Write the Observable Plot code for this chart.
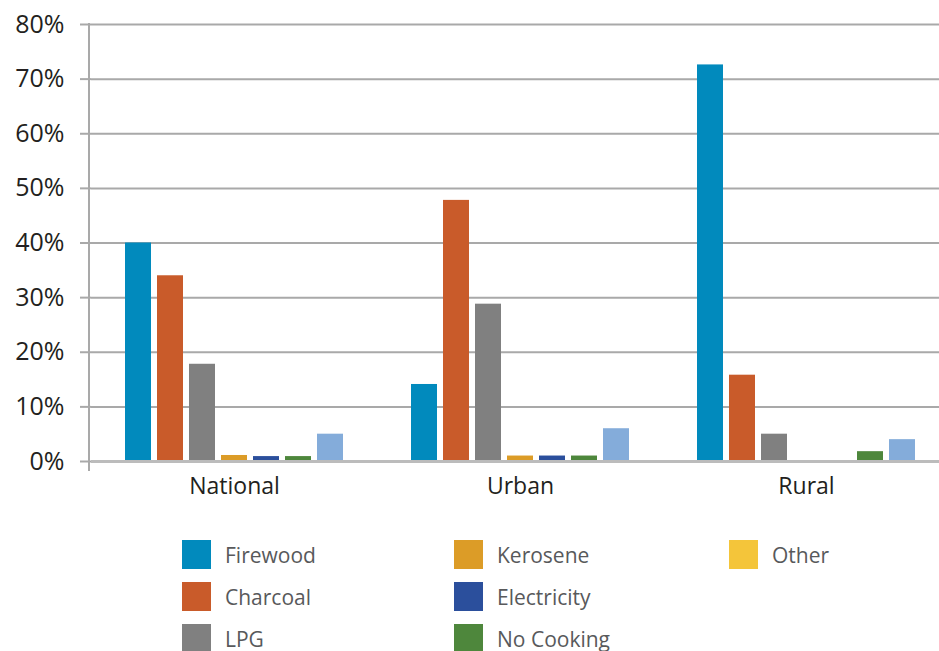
<!DOCTYPE html>
<html>
<head>
<meta charset="utf-8">
<script src="https://cdn.jsdelivr.net/npm/d3@7"></script>
<script src="https://cdn.jsdelivr.net/npm/@observablehq/plot@0.6"></script>
<style>
  body { margin: 0; background: #fff; font-family: "Open Sans", sans-serif; }
  #wrap { position: relative; width: 939px; height: 651px; overflow: hidden; background: #fff; }
  #chart { position: absolute; left: 0; top: 0; }
  #legend {
    position: absolute; left: 182px; top: 540px;
    display: grid; grid-auto-flow: column;
    grid-template-columns: 272px 275px 200px;
    grid-template-rows: repeat(3, 42px);
  }
  .item { display: flex; align-items: center; height: 29px; }
  .sw { width: 29px; height: 29px; margin-right: 14px; flex: none; }
  .lab { font-size: 21px; color: #58595b; white-space: nowrap; line-height: 26px; }
</style>
</head>
<body>
<div id="wrap">
  <div id="chart"></div>
  <div id="legend"></div>
</div>
<script>
// ---- Data ----
const groups = ["National", "Urban", "Rural"];
const series = ["Firewood", "Charcoal", "LPG", "Kerosene", "Electricity", "No Cooking", "Other"];
const national = [40, 34, 17.8, 1.1, 0.9, 0.9, 5];
const urban    = [14.1, 47.8, 28.8, 1, 1, 1, 6];
const rural    = [72.6, 15.8, 5, 0, 0, 1.8, 4];
const barColors    = ["#018abd", "#c95b2a", "#808080", "#dc9c27", "#2b4f9c", "#4e873c", "#84acda"];
const legendColors = ["#018abd", "#c95b2a", "#808080", "#dc9c27", "#2b4f9c", "#4e873c", "#f4c53a"];
const yTicks = [0, 10, 20, 30, 40, 50, 60, 70, 80];

// ---- Table ----
const valuesByGroup = [national, urban, rural];
const data = [];
groups.forEach((g, gi) => {
  series.forEach((s, si) => data.push({ group: g, fuel: s, value: valuesByGroup[gi][si] }));
});

const marginLeft = 90;
const plot = Plot.plot({
  width: 939,
  height: 515,
  marginLeft,
  marginRight: -11,
  marginTop: 24,
  marginBottom: 54,
  style: { fontFamily: "'Open Sans', sans-serif", background: "transparent", overflow: "visible" },
  fx: { domain: groups, padding: 0, label: null },
  x: { domain: series, paddingInner: 0.2, paddingOuter: 1.02, axis: null },
  y: { domain: [0, 80], label: null },
  color: { domain: series, range: barColors },
  marks: [
    Plot.gridY(yTicks, { stroke: "#a9a9a9", strokeOpacity: 1, strokeWidth: 2 }),
    Plot.barY(data, { fx: "group", x: "fuel", y: "value", fill: "fuel" }),
    Plot.ruleY([0], { stroke: "#bcbcbc", strokeWidth: 3 }),
    Plot.axisY(yTicks, {
      tickSize: 11, tickPadding: 16, stroke: "#a9a9a9", strokeWidth: 2,
      tickFormat: d => d + "%", fontSize: 25, fill: "#231f20", label: null
    }),
    Plot.axisFx({ anchor: "bottom", tickSize: 0, tickPadding: 16, fontSize: 23, fill: "#231f20", label: null })
  ]
});
document.getElementById("chart").appendChild(plot);

// vertical value-axis line (positioned via the y scale)
const ys = plot.scale("y");
d3.select(plot).append("line")
  .attr("x1", marginLeft - 1).attr("x2", marginLeft - 1)
  .attr("y1", ys.apply(80) - 1).attr("y2", ys.apply(0) + 10)
  .attr("stroke", "#a9a9a9").attr("stroke-width", 2);

// ---- Legend ----
const legend = d3.select("#legend");
series.forEach((s, i) => {
  const it = legend.append("div").attr("class", "item");
  it.append("div").attr("class", "sw").style("background", legendColors[i]);
  it.append("div").attr("class", "lab").text(s);
});
</script>
</body>
</html>
